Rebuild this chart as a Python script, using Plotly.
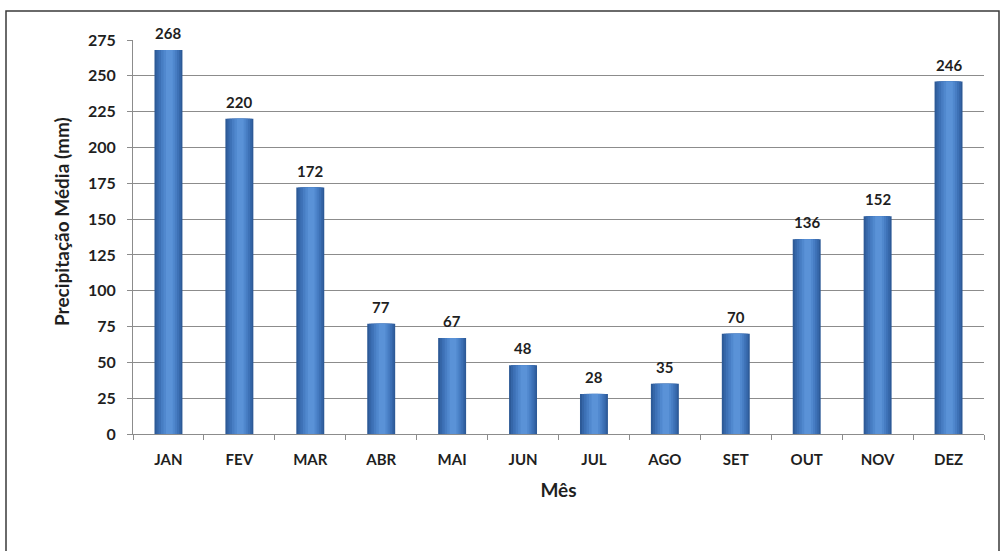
import plotly.graph_objects as go

months = ["JAN", "FEV", "MAR", "ABR", "MAI", "JUN", "JUL", "AGO", "SET", "OUT", "NOV", "DEZ"]
precip = [268, 220, 172, 77, 67, 48, 28, 35, 70, 136, 152, 246]
y_ticks = [0, 25, 50, 75, 100, 125, 150, 175, 200, 225, 250, 275]

FONT = "Lato, 'Open Sans', sans-serif"
TXT = "#1f1f1f"

fig = go.Figure()

# cylinder-like shading: stacked overlay layers (dark edges, light centre)
layers = [
    (-0.197, 0.394, "#2D5A97"),
    (-0.170, 0.345, "#3566A8"),
    (-0.140, 0.290, "#3D71B6"),
    (-0.105, 0.225, "#477DC3"),
    (-0.070, 0.160, "#5088CE"),
    (-0.035, 0.095, "#5A92D7"),
]
for off, w, c in layers:
    fig.add_trace(go.Bar(
        x=months, y=precip, width=w, offset=off,
        marker=dict(color=c, line=dict(width=0)),
        hoverinfo="skip", showlegend=False,
    ))

for m, v in zip(months, precip):
    fig.add_annotation(
        x=m, y=v, text=str(v), showarrow=False, yanchor="bottom", yshift=6,
        font=dict(family=FONT, size=15, color=TXT, weight="bold"),
    )

W, H = 1002, 551
L, R, T, B = 133, 18, 40, 117
pw, ph = W - L - R, H - T - B

# y-axis title (placed slightly above plot centre, as in the original)
fig.add_annotation(
    xref="paper", yref="paper", x=(61 - L) / pw, y=(T + ph - 222) / ph,
    text="Precipitação Média (mm)", textangle=-90, showarrow=False,
    xanchor="center", yanchor="middle",
    font=dict(family=FONT, size=19, color=TXT, weight="bold"),
)

# outer frame
fig.add_shape(
    type="rect", xref="paper", yref="paper",
    x0=(6 - L) / pw, x1=(999 - L) / pw,
    y0=(T + ph - 560) / ph, y1=(T + ph - 11) / ph,
    line=dict(color="#3a3a3a", width=1.5), layer="below",
)

fig.update_layout(
    width=W, height=H,
    margin=dict(l=L, r=R, t=T, b=B),
    paper_bgcolor="white", plot_bgcolor="white",
    barmode="overlay",
    font=dict(family=FONT, color=TXT),
)
fig.update_xaxes(
    type="category", tickson="boundaries",
    ticks="outside", ticklen=5, tickcolor="#8c8c8c",
    showline=True, linecolor="#8c8c8c", linewidth=1,
    tickfont=dict(family=FONT, size=15, color=TXT, weight="bold"),
    ticklabelstandoff=12,
    title=dict(text="Mês", font=dict(family=FONT, size=19, color=TXT, weight="bold"), standoff=16),
)
fig.update_yaxes(
    range=[0, 275], tickvals=y_ticks, ticktext=[str(t) for t in y_ticks],
    ticks="outside", ticklen=5, tickcolor="#8c8c8c",
    showgrid=True, gridcolor="#8c8c8c", gridwidth=1,
    showline=True, linecolor="#8c8c8c", linewidth=1,
    zeroline=False,
    tickfont=dict(family=FONT, size=16, color=TXT, weight="bold"),
    ticklabelstandoff=8,
)

fig.write_html("out.html")
